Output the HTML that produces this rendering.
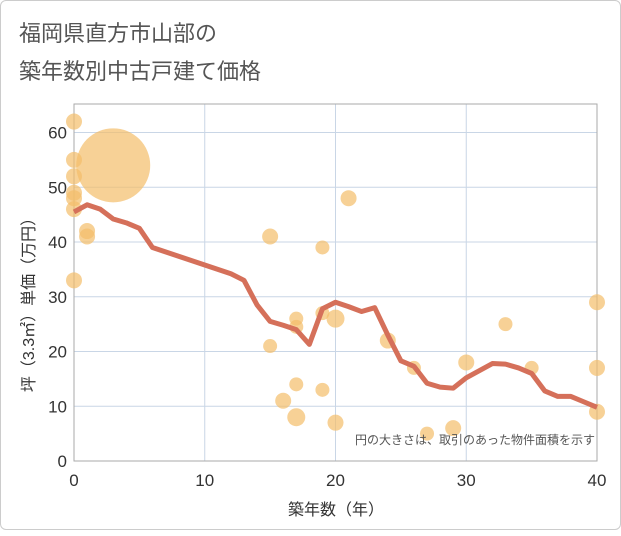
<!DOCTYPE html>
<html><head><meta charset="utf-8"><style>
body{margin:0;background:#fff;font-family:"Liberation Sans","Noto Sans CJK JP",sans-serif}
#c{position:absolute;left:0;top:0;width:619px;height:528px;border:1px solid #ccc;border-radius:6px;background:#fff}
</style></head><body>
<div id="c">
<svg id="s" width="621" height="530"></svg>
</div>
<script>
const lineX=[0,1,2,3,4,5,6,7,8,9,10,11,12,13,14,15,16,17,18,19,20,21,22,23,24,25,26,27,28,29,30,31,32,33,34,35,36,37,38,39,40];
const lineY=[45.5,46.8,46,44.2,43.5,42.5,39,38.2,37.4,36.6,35.8,35,34.2,33,28.5,25.5,24.8,24,21.3,27.8,29,28.2,27.3,28,23,18.3,17.3,14.2,13.5,13.3,15.2,16.5,17.8,17.7,17,16,12.8,11.8,11.8,10.8,9.8];
const ptX=[0,0,0,0,0,0,0,1,1,3,15,15,16,17,17,17,17,19,19,19,20,20,21,24,26,27,29,30,33,35,40,40,40];
const ptY=[62,55,52,49,48,46,33,42,41,54,41,21,11,26,24.5,14,8,39,27,13,26,7,48,22,17,5,6,18,25,17,29,17,9];
const ptR=[8,8,8,8,8,8,8,8,8,37,8,7,8,7,7,7,9,7,7,7,9,8,8,8,7,7,8,8,7,7,8,8,8];
const xTicks=[0,10,20,30,40];
const yTicks=[0,10,20,30,40,50,60];
const X0=73,X1=596,YT=103,YB=460;
const sx=v=>X0+v*(X1-X0)/40, sy=v=>YB-v*(YB-131.5)/60;
const s=document.getElementById('s'),NS='http://www.w3.org/2000/svg';
function mk(t,a,p){const e=document.createElementNS(NS,t);for(const k in a)e.setAttribute(k,a[k]);(p||s).appendChild(e);return e;}
function tx(x,y,str,a){const e=mk('text',Object.assign({x:x,y:y,fill:'#333','font-size':16},a));e.textContent=str;return e;}
let t=tx(18,40,'福岡県直方市山部の',{'font-size':22,fill:'#555'});

t=tx(18,78,'築年数別中古戸建て価格',{'font-size':22,fill:'#555'});

const g=mk('g',{});
xTicks.forEach(v=>{const l=mk('line',{x1:sx(v),x2:sx(v),y1:YT,y2:YB,stroke:'#c9d6e6','stroke-width':1},g);
 const e=tx(sx(v),485,String(v),{'text-anchor':'middle','font-size':17});});
yTicks.forEach(v=>{const l=mk('line',{x1:X0,x2:X1,y1:sy(v),y2:sy(v),stroke:'#c9d6e6','stroke-width':1},g);
 const e=tx(66,sy(v)+6,String(v),{'text-anchor':'end','font-size':17});});
const fr=mk('rect',{x:X0,y:YT,width:X1-X0,height:YB-YT,fill:'none',stroke:'#aaa'});
const pg=mk('g',{});
ptX.forEach((v,i)=>{const c=mk('circle',{cx:sx(v),cy:sy(ptY[i]),r:ptR[i],fill:'#f3bd6a','fill-opacity':0.7},pg);
 });
const ln=mk('polyline',{points:lineX.map((v,i)=>sx(v)+','+sy(lineY[i])).join(' '),fill:'none',stroke:'#d5705a','stroke-width':5,'stroke-linejoin':'round'});

t=tx(594,443,'円の大きさは、取引のあった物件面積を示す',{'text-anchor':'end','font-size':12,fill:'#555'});

t=tx(335,514,'築年数（年）',{'text-anchor':'middle'});

t=tx(0,0,'坪（3.3㎡）単価（万円）',{'text-anchor':'middle',transform:'translate(33,300) rotate(-90)'});

</script>
</body></html>
